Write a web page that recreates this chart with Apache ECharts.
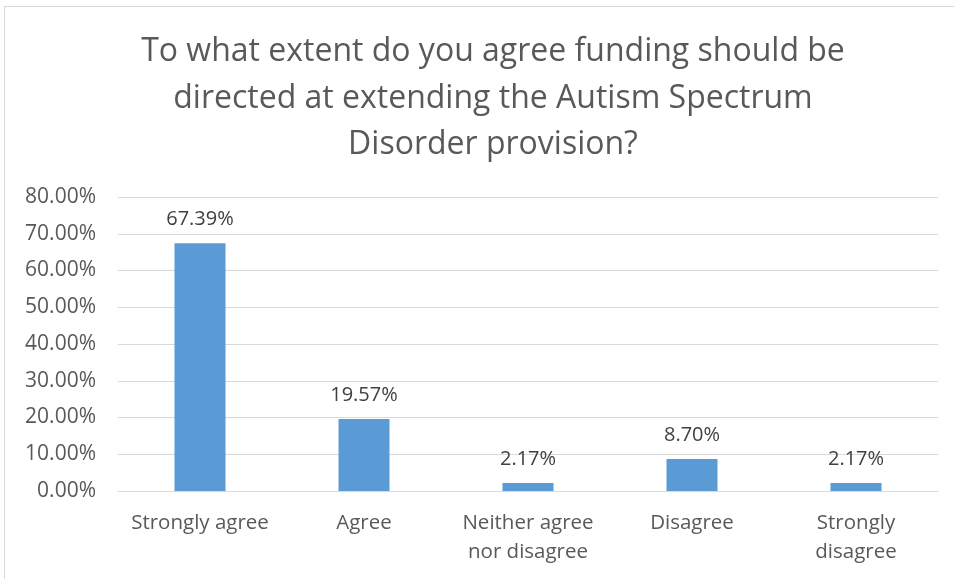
<!DOCTYPE html>
<html><head><meta charset="utf-8">
<script src="https://cdn.jsdelivr.net/npm/echarts@6/dist/echarts.min.js"></script>
<style>
html,body{margin:0;padding:0;background:#fff;}
#frame{position:absolute;left:4px;top:6px;width:960px;height:590px;border:1px solid #d9d9d9;box-sizing:border-box;}
#c{position:absolute;left:0;top:0;width:954px;height:579px;}
</style></head>
<body>
<div id="frame"></div>
<div id="c"></div>
<script>
const titleLines = ["To what extent do you agree funding should be", "directed at extending the Autism Spectrum", "Disorder provision?"];
const categories = ["Strongly agree", "Agree", "Neither agree\nnor disagree", "Disagree", "Strongly\ndisagree"];
const values = [67.39, 19.57, 2.17, 8.70, 2.17];
const yTicks = {min: 0, max: 80, interval: 10};

const font = "'Open Sans', sans-serif";
const chart = echarts.init(document.getElementById('c'), null, {renderer: 'canvas'});
chart.setOption({
  animation: false,
  title: {
    text: titleLines.join('\n'),
    left: 488, top: 24, textAlign: 'center',
    textStyle: {fontFamily: font, fontSize: 32, fontWeight: 'normal', color: '#595959', lineHeight: 46.5, align: 'center'}
  },
  grid: {left: 118, right: 16, top: 197, bottom: 88},
  xAxis: {
    type: 'category', data: categories,
    axisLine: {lineStyle: {color: '#d9d9d9', width: 1}},
    axisTick: {show: false},
    axisLabel: {fontFamily: font, fontSize: 20.5, color: '#595959', margin: 18, lineHeight: 29, interval: 0}
  },
  yAxis: {
    type: 'value', min: yTicks.min, max: yTicks.max, interval: yTicks.interval,
    axisLine: {show: false}, axisTick: {show: false},
    splitLine: {lineStyle: {color: '#d9d9d9', width: 1}},
    axisLabel: {fontFamily: font, fontSize: 21, color: '#595959', margin: 22,
      formatter: v => v.toFixed(2) + '%'}
  },
  series: [{
    type: 'bar', data: values, barWidth: 51,
    itemStyle: {color: '#5b9bd5'},
    label: {show: true, position: 'top', distance: 14, fontFamily: font, fontSize: 20, color: '#404040',
      formatter: p => p.value.toFixed(2) + '%'}
  }]
});
</script>
</body></html>
